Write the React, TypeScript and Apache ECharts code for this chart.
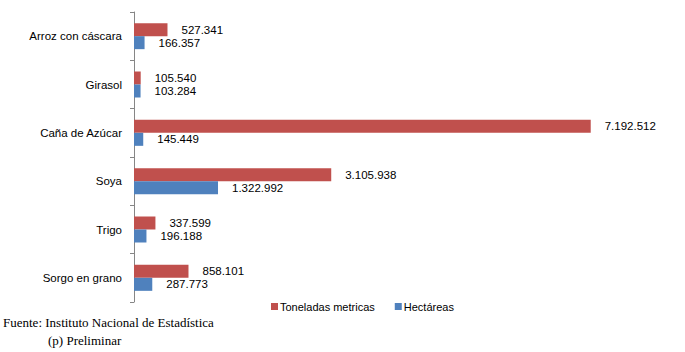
import React, { useEffect, useRef } from "react";
import * as echarts from "echarts";

const categories = ["Arroz con cáscara", "Girasol", "Caña de Azúcar", "Soya", "Trigo", "Sorgo en grano"];
const toneladas = [527341, 105540, 7192512, 3105938, 337599, 858101];
const hectareas = [166357, 103284, 145449, 1322992, 196188, 287773];
const seriesNames = ["Toneladas metricas", "Hectáreas"];
const sourceLines = ["Fuente: Instituto Nacional de Estadística", "(p) Preliminar"];

const fmt = (v: number) => String(v).replace(/\B(?=(\d{3})+(?!\d))/g, ".");

export default function App() {
  const ref = useRef<HTMLDivElement>(null);
  useEffect(() => {
    document.body.style.margin = "0";
    const chart = echarts.init(ref.current!, null, { renderer: "svg" });
    const font = "'Liberation Sans', Arial, sans-serif";
    const serif = "'Liberation Serif', 'Times New Roman', serif";
    const label = {
      show: true,
      position: "right" as const,
      distance: 14,
      color: "#000",
      fontSize: 11.5,
      fontFamily: font,
      formatter: (p: any) => fmt(p.value),
    };
    chart.setOption({
      animation: false,
      backgroundColor: "#fff",
      grid: { left: 134, top: 12, height: 290, right: 43 },
      xAxis: { type: "value", min: 0, max: 8000000, show: false, splitLine: { show: false } },
      yAxis: {
        type: "category",
        data: categories,
        inverse: true,
        axisLine: { show: true, lineStyle: { color: "#868686" } },
        axisTick: { show: true, length: 4, lineStyle: { color: "#868686" } },
        axisLabel: { color: "#000", fontSize: 11.5, fontFamily: font, margin: 12 },
      },
      legend: {
        data: seriesNames,
        left: 266,
        top: 296,
        icon: "rect",
        itemWidth: 7,
        itemHeight: 7,
        itemGap: 20,
        textStyle: { color: "#000", fontSize: 11, fontFamily: font, padding: [0, 0, 0, -3] },
      },
      series: [
        {
          name: seriesNames[0],
          type: "bar",
          data: toneladas,
          itemStyle: { color: "#C0504D" },
          barWidth: 13,
          barGap: "0%",
          label,
        },
        {
          name: seriesNames[1],
          type: "bar",
          data: hectareas,
          itemStyle: { color: "#4F81BD" },
          barWidth: 13,
          barGap: "0%",
          label,
        },
      ],
      graphic: [
        {
          type: "text",
          left: 3,
          top: 316,
          style: { text: sourceLines[0], fontSize: 13, fontFamily: serif, fill: "#000" },
        },
        {
          type: "text",
          left: 48,
          top: 334,
          style: { text: sourceLines[1], fontSize: 13, fontFamily: serif, fill: "#000" },
        },
      ],
    });
    return () => chart.dispose();
  }, []);
  return <div ref={ref} style={{ width: 685, height: 352 }} />;
}
